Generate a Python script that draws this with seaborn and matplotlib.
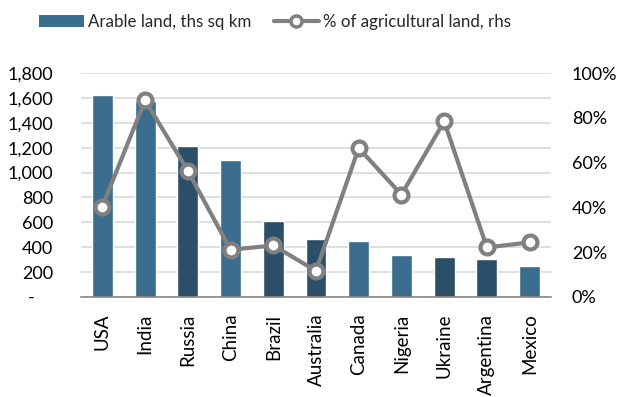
import numpy as np
import pandas as pd
import matplotlib
matplotlib.use("Agg")
import matplotlib.pyplot as plt
from matplotlib.lines import Line2D
from matplotlib.patches import Patch
from matplotlib.ticker import FuncFormatter, PercentFormatter
import seaborn as sns

countries = ["USA", "India", "Russia", "China", "Brazil", "Australia",
             "Canada", "Nigeria", "Ukraine", "Argentina", "Mexico"]
arable_ths_sqkm = [1626, 1578, 1216, 1098, 613, 469, 447, 340, 324, 308, 252]
pct_agricultural = [0.404, 0.878, 0.564, 0.211, 0.230, 0.117,
                    0.665, 0.457, 0.784, 0.221, 0.244]
highlight = [False, False, True, False, True, True, False, False, True, True, False]

LIGHT = "#3A6D8E"
DARK = "#2B4F69"
GREY = "#808080"

sns.set_theme(style="white")
plt.rcParams["font.family"] = ["Lato", "DejaVu Sans"]

df = pd.DataFrame({"country": countries, "arable": arable_ths_sqkm,
                   "pct": pct_agricultural, "pos": np.arange(len(countries))})
palette = {c: (DARK if h else LIGHT) for c, h in zip(countries, highlight)}

fig = plt.figure(figsize=(6.2, 3.97), dpi=100)
ax = fig.add_axes([0.1306, 0.2519, 0.7581, 0.5642])

sns.barplot(data=df, x="country", y="arable", hue="country", palette=palette,
            legend=False, width=0.49, saturation=1, ax=ax)
ax.set_ylim(0, 1800)
ax.set_yticks(np.arange(0, 1801, 200))
ax.yaxis.set_major_formatter(FuncFormatter(lambda v, p: "-    " if v == 0 else f"{v:,.0f}"))
ax.grid(axis="y", color="#D9D9D9", linewidth=1.2)
ax.set_axisbelow(True)
ax.set_xlabel("")
ax.set_ylabel("")
for s in ["left", "right", "top"]:
    ax.spines[s].set_visible(False)
ax.spines["bottom"].set_color("#868686")
ax.spines["bottom"].set_linewidth(1.2)
ax.tick_params(axis="y", length=0, pad=20, labelsize=13, labelcolor="#000000")
ax.tick_params(axis="x", length=0, pad=12, labelsize=13.5, labelcolor="#000000")
plt.setp(ax.get_xticklabels(), rotation=90)
ax.set_xlim(-0.5, len(countries) - 0.5)

ax2 = ax.twinx()
sns.lineplot(data=df, x="pos", y="pct", color=GREY, linewidth=3, marker="o",
             markersize=10, markerfacecolor="white", markeredgecolor=GREY,
             markeredgewidth=3, ax=ax2)
ax2.set_ylim(0, 1)
ax2.set_yticks(np.arange(0, 1.01, 0.2))
ax2.yaxis.set_major_formatter(PercentFormatter(1.0, decimals=0))
ax2.set_xlabel("")
ax2.set_ylabel("")
for s in ["left", "right", "top", "bottom"]:
    ax2.spines[s].set_visible(False)
ax2.tick_params(axis="y", length=0, pad=15, labelsize=13, labelcolor="#000000")
ax2.grid(False)
ax2.set_xlim(-0.5, len(countries) - 0.5)

handles = [
    Patch(facecolor=LIGHT, edgecolor="none", label="Arable land, ths sq km"),
    Line2D([], [], color=GREY, linewidth=3, marker="o", markersize=8,
           markerfacecolor="white", markeredgecolor=GREY, markeredgewidth=2.5,
           label="% of agricultural land, rhs"),
]
fig.legend(handles=handles, loc="upper left", bbox_to_anchor=(0.047, 0.99),
           ncol=2, frameon=False, fontsize=12.2, handlelength=2.65,
           handletextpad=0.25, columnspacing=1.3, borderaxespad=0.2)

fig.savefig("out.png", dpi=100, facecolor="white")
